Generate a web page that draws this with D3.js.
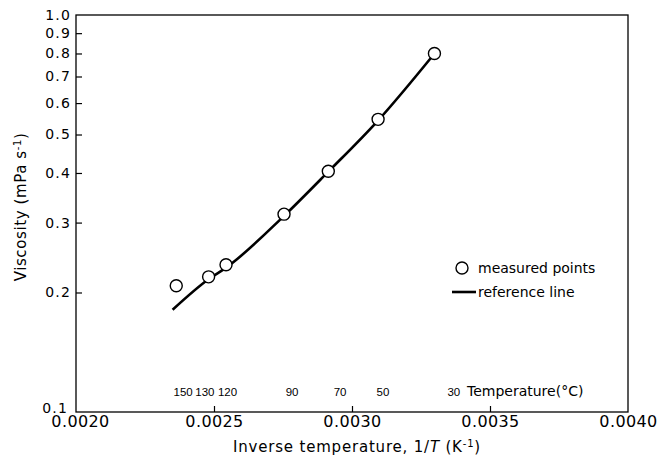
<!DOCTYPE html>
<html>
<head>
<meta charset="utf-8">
<script src="https://cdn.jsdelivr.net/npm/d3@7"></script>
<style>
  body { margin: 0; background: #fff; }
  svg { font-family: "DejaVu Sans", sans-serif; }
</style>
</head>
<body>
<svg id="chart" width="670" height="466"></svg>
<script>
// measured points, temperatures in deg C
var tempC = [150, 130, 120, 90, 70, 50, 30];
var viscosity = [0.208, 0.219, 0.235, 0.315, 0.404, 0.546, 0.80];

// where the temperature labels sit, in inverse temperature
var tempLabelX = [0.002388, 0.002467, 0.002549, 0.002783, 0.002957, 0.003112, 0.003369];

// reference line (inverse temperature, viscosity)
var refX = [0.00235, 0.00248, 0.002544, 0.002754, 0.002914, 0.003095, 0.003299];
var refY = [0.181, 0.216, 0.231, 0.312, 0.403, 0.543, 0.80];

var xTicks = [0.0020, 0.0025, 0.0030, 0.0035, 0.0040];
var yTicks = [0.1, 0.2, 0.3, 0.4, 0.5, 0.6, 0.7, 0.8, 0.9, 1.0];

var svg = d3.select("#chart");
var padding = {top: 15, right: 42, bottom: 54, left: 76};
var chartArea = {
    width: 670 - padding.left - padding.right,
    height: 466 - padding.top - padding.bottom
};

var xScale = d3.scaleLinear().domain([0.0020, 0.0040]).range([0, chartArea.width]);
var yScale = d3.scaleLog().domain([0.1, 1.0]).range([chartArea.height, 0]);

var g = svg.append("g")
    .attr("transform", "translate(" + padding.left + "," + padding.top + ")");

// frame
g.append("rect")
    .attr("width", chartArea.width)
    .attr("height", chartArea.height)
    .attr("fill", "none")
    .attr("stroke", "#000")
    .attr("stroke-width", 1.3);

// x axis, ticks pointing in
var xAxis = g.append("g")
    .attr("transform", "translate(0," + chartArea.height + ")")
    .call(d3.axisBottom(xScale).tickValues(xTicks).tickSize(-6).tickPadding(4)
        .tickFormat(d3.format(".4f")));
xAxis.select(".domain").remove();
xAxis.selectAll("line").attr("stroke-width", 1.2)
    .filter(function(d){ return d === 0.0020 || d === 0.0040; }).remove();
xAxis.selectAll("text").attr("font-size", 16).attr("font-family", "DejaVu Sans")
    .attr("letter-spacing", 0.4).attr("fill", "#000");
xAxis.selectAll("text").filter(function(d){ return d === 0.0020; }).attr("dx", 4);

// y axis
var yAxis = g.append("g")
    .call(d3.axisLeft(yScale).tickValues(yTicks).tickSize(-6).tickPadding(5)
        .tickFormat(d3.format(".1f")));
yAxis.select(".domain").remove();
yAxis.selectAll("line").attr("stroke-width", 1.2)
    .filter(function(d){ return d === 0.1 || d === 1.0; }).remove();
yAxis.selectAll("text").attr("font-size", 14).attr("font-family", "DejaVu Sans")
    .attr("letter-spacing", 1.2).attr("fill", "#000");
// 0.1 sits in the corner, lift it a little off the x labels
yAxis.selectAll("text").filter(function(d){ return d === 0.1; })
    .attr("dy", "0em").attr("dx", -3);

// reference line
var line = d3.line()
    .x(function(d){ return xScale(d[0]); })
    .y(function(d){ return yScale(d[1]); })
    .curve(d3.curveMonotoneX);
g.append("path")
    .datum(refX.map(function(x, i){ return [x, refY[i]]; }))
    .attr("d", line)
    .attr("fill", "none")
    .attr("stroke", "#000")
    .attr("stroke-width", 2.6);

// measured points
g.selectAll("circle.pt").data(tempC).enter()
    .append("circle")
    .attr("class", "pt")
    .attr("cx", function(d){ return xScale(1 / (d + 273.15)); })
    .attr("cy", function(d, i){ return yScale(viscosity[i]); })
    .attr("r", 6)
    .attr("fill", "#fff")
    .attr("stroke", "#000")
    .attr("stroke-width", 1.4);

// temperature labels
g.selectAll("text.temp").data(tempC).enter()
    .append("text")
    .attr("class", "temp")
    .attr("x", function(d, i){ return xScale(tempLabelX[i]); })
    .attr("y", chartArea.height - 16)
    .attr("text-anchor", "middle")
    .attr("font-family", "Liberation Sans")
    .attr("font-size", 11.5)
    .text(function(d){ return d; });
g.append("text")
    .attr("x", 391)
    .attr("y", chartArea.height - 16)
    .attr("font-size", 14)
    .text("Temperature(°C)");

// legend
var legend = g.append("g").attr("transform", "translate(386,253)");
legend.append("circle").attr("cx", 0).attr("cy", 0).attr("r", 6)
    .attr("fill", "#fff").attr("stroke", "#000").attr("stroke-width", 1.4);
legend.append("text").attr("x", 16).attr("y", 5).attr("font-size", 14).text("measured points");
legend.append("line").attr("x1", -10).attr("x2", 14).attr("y1", 24).attr("y2", 24)
    .attr("stroke", "#000").attr("stroke-width", 2.6);
legend.append("text").attr("x", 16).attr("y", 29).attr("font-size", 14).text("reference line");

// axis titles
svg.append("text")
    .attr("transform", "translate(26,207) rotate(-90)")
    .attr("text-anchor", "middle")
    .attr("font-size", 15)
    .attr("letter-spacing", 0.6)
    .html("Viscosity (mPa s<tspan dy='-5' font-size='10'>-1</tspan><tspan dy='5'>)</tspan>");
svg.append("text")
    .attr("x", 357)
    .attr("y", 452)
    .attr("text-anchor", "middle")
    .attr("font-size", 15)
    .attr("letter-spacing", 0.8)
    .html("Inverse temperature, 1/<tspan font-style='italic'>T</tspan> (K<tspan dy='-5' font-size='10'>-1</tspan><tspan dy='5'>)</tspan>");
</script>
</body>
</html>
